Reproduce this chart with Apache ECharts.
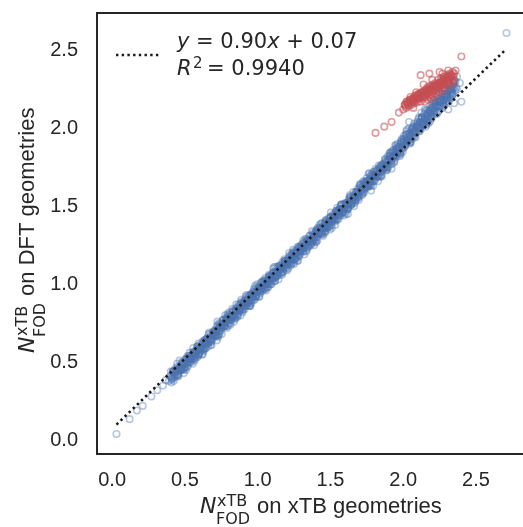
<!DOCTYPE html>
<html><head><meta charset="utf-8">
<script src="https://cdn.jsdelivr.net/npm/echarts@6/dist/echarts.min.js"></script>
<style>html,body{margin:0;padding:0;background:#fff;overflow:hidden}#c{width:523px;height:527px}</style>
</head><body><div id="c"></div>
<script>
const xTicks = [0.0, 0.5, 1.0, 1.5, 2.0, 2.5];
const yTicks = [0.0, 0.5, 1.0, 1.5, 2.0, 2.5];
const xTitleRest = ' on xTB geometries';
const yTitleRest = ' on DFT geometries';
const fitText = '{i|y} = 0.90{i|x} + 0.07';
const r2Value = '= 0.9940';
const fitX = [0.03, 2.70];
const fitY = [0.10, 2.50];

const blueBand1 = [
[0.40,0.41],[0.41,0.39],[0.42,0.44],[0.43,0.42],[0.44,0.44],[0.45,0.42],[0.46,0.46],[0.47,0.45],[0.48,0.49],[0.49,0.46],
[0.50,0.49],[0.51,0.52],[0.52,0.48],[0.53,0.53],[0.54,0.52],[0.55,0.56],[0.56,0.52],[0.57,0.55],[0.58,0.58],[0.59,0.54],
[0.60,0.59],[0.61,0.58],[0.62,0.63],[0.63,0.59],[0.64,0.62],[0.65,0.65],[0.66,0.60],[0.67,0.65],[0.68,0.64],[0.69,0.68],
[0.70,0.67],[0.71,0.69],[0.72,0.73],[0.73,0.67],[0.74,0.73],[0.75,0.72],[0.76,0.77],[0.77,0.73],[0.78,0.76],[0.79,0.79],
[0.80,0.75],[0.81,0.79],[0.82,0.77],[0.83,0.83],[0.84,0.80],[0.85,0.84],[0.86,0.79],[0.87,0.84],[0.88,0.87],[0.89,0.84],
[0.90,0.88],[0.91,0.84],[0.92,0.91],[0.93,0.88],[0.94,0.90],[0.95,0.93],[0.96,0.90],[0.97,0.94],[0.98,0.90],[0.99,0.98],
[1.00,0.95],[1.01,0.98],[1.02,0.95],[1.03,0.98],[1.04,1.02],[1.05,0.97],[1.06,1.02],[1.07,1.01],[1.08,1.05],[1.09,1.00],
[1.10,1.05],[1.11,1.08],[1.12,1.04],[1.13,1.08],[1.14,1.07],[1.15,1.11],[1.16,1.07],[1.17,1.14],[1.18,1.10],[1.19,1.13],
[1.20,1.15],[1.21,1.10],[1.22,1.17],[1.23,1.15],[1.24,1.20],[1.25,1.16],[1.26,1.19],[1.27,1.22],[1.28,1.18],[1.29,1.23],
[1.30,1.22],[1.31,1.26],[1.32,1.19],[1.33,1.25],[1.34,1.28],[1.35,1.25],[1.36,1.29],[1.37,1.26],[1.38,1.33],[1.39,1.30],
[1.40,1.34],[1.41,1.28],[1.42,1.33],[1.43,1.36],[1.44,1.33],[1.45,1.37],[1.46,1.34],[1.47,1.41],[1.48,1.38],[1.49,1.40],
[1.50,1.43],[1.51,1.36],[1.52,1.43],[1.53,1.41],[1.54,1.47],[1.55,1.44],[1.56,1.48],[1.57,1.44],[1.58,1.48],[1.59,1.51],
[1.60,1.46],[1.61,1.51],[1.62,1.50],[1.63,1.55],[1.64,1.51],[1.65,1.54],[1.66,1.57],[1.67,1.53],[1.68,1.58],[1.69,1.56],
[1.70,1.63],[1.71,1.60],[1.72,1.64],[1.73,1.59],[1.74,1.64],[1.75,1.68],[1.76,1.63],[1.77,1.67],[1.78,1.64],[1.79,1.70],
[1.80,1.68],[1.81,1.74],[1.82,1.69],[1.83,1.72],[1.84,1.75],[1.85,1.70],[1.86,1.75],[1.87,1.74],[1.88,1.79],[1.89,1.75],
[1.90,1.80],[1.91,1.84],[1.92,1.79],[1.93,1.84],[1.94,1.79],[1.95,1.89],[1.96,1.84],[1.97,1.88],[1.98,1.84],[1.99,1.93],
[2.00,1.91],[2.01,1.88],[2.02,1.96],[2.03,1.92],[2.04,2.00],[2.05,1.91],[2.06,1.97],[2.07,2.01],[2.08,1.95],[2.09,2.01],
[2.10,2.01],[2.11,2.07],[2.12,1.99],[2.13,2.06],[2.14,2.03],[2.15,2.12],[2.16,2.07],[2.17,2.03],[2.18,2.12],[2.19,2.08],
[2.20,2.16],[2.21,2.09],[2.22,2.16],[2.23,2.09],[2.24,2.21],[2.25,2.17],[2.26,2.14],[2.27,2.22],[2.28,2.18],[2.29,2.26],
[2.30,2.17],[2.31,2.24],[2.32,2.28],[2.33,2.22],[2.34,2.28],[2.35,2.26],[2.36,2.30],[2.37,2.25]
];
const blueBand2 = [
[0.425,0.41],[0.435,0.46],[0.445,0.41],[0.455,0.46],[0.465,0.46],[0.475,0.45],[0.485,0.50],[0.495,0.46],[0.505,0.51],[0.515,0.49],
[0.525,0.54],[0.535,0.50],[0.545,0.53],[0.555,0.55],[0.565,0.52],[0.575,0.55],[0.585,0.60],[0.595,0.55],[0.605,0.59],[0.615,0.59],
[0.625,0.58],[0.635,0.63],[0.645,0.59],[0.655,0.65],[0.665,0.63],[0.675,0.68],[0.685,0.64],[0.695,0.67],[0.705,0.70],[0.715,0.67],
[0.725,0.70],[0.735,0.75],[0.745,0.70],[0.755,0.74],[0.765,0.74],[0.775,0.73],[0.785,0.78],[0.795,0.73],[0.805,0.80],[0.815,0.78],
[0.825,0.84],[0.835,0.79],[0.845,0.82],[0.855,0.83],[0.865,0.80],[0.875,0.83],[0.885,0.88],[0.895,0.83],[0.905,0.88],[0.915,0.88],
[0.925,0.87],[0.935,0.92],[0.945,0.87],[0.955,0.93],[0.965,0.91],[0.975,0.97],[0.985,0.92],[0.995,0.95],[1.005,0.97],[1.015,0.94],
[1.025,0.97],[1.035,1.02],[1.045,0.97],[1.055,1.01],[1.065,1.01],[1.075,1.00],[1.085,1.05],[1.095,1.00],[1.105,1.07],[1.115,1.05],
[1.125,1.11],[1.135,1.06],[1.145,1.09],[1.155,1.10],[1.165,1.07],[1.175,1.10],[1.185,1.15],[1.195,1.10],[1.205,1.15],[1.215,1.15],
[1.225,1.14],[1.235,1.19],[1.245,1.14],[1.255,1.20],[1.265,1.18],[1.275,1.24],[1.285,1.19],[1.295,1.22],[1.305,1.24],[1.315,1.21],
[1.325,1.24],[1.335,1.29],[1.345,1.24],[1.355,1.28],[1.365,1.28],[1.375,1.27],[1.385,1.32],[1.395,1.27],[1.405,1.34],[1.415,1.32],
[1.425,1.38],[1.435,1.33],[1.445,1.36],[1.455,1.37],[1.465,1.34],[1.475,1.37],[1.485,1.42],[1.495,1.37],[1.505,1.42],[1.515,1.42],
[1.525,1.41],[1.535,1.46],[1.545,1.41],[1.555,1.47],[1.565,1.45],[1.575,1.51],[1.585,1.46],[1.595,1.49],[1.605,1.51],[1.615,1.48],
[1.625,1.51],[1.635,1.56],[1.645,1.51],[1.655,1.55],[1.665,1.55],[1.675,1.54],[1.685,1.59],[1.695,1.54],[1.705,1.62],[1.715,1.60],
[1.725,1.66],[1.735,1.61],[1.745,1.64],[1.755,1.66],[1.765,1.63],[1.775,1.66],[1.785,1.71],[1.795,1.66],[1.805,1.70],[1.815,1.70],
[1.825,1.69],[1.835,1.74],[1.845,1.69],[1.855,1.76],[1.865,1.74],[1.875,1.80],[1.885,1.75],[1.895,1.78],[1.905,1.82],[1.915,1.77],
[1.925,1.85],[1.935,1.82],[1.945,1.89],[1.955,1.82],[1.965,1.87],[1.975,1.82],[1.985,1.91],[1.995,1.87],[2.005,1.95],[2.015,1.89],
[2.025,1.99],[2.035,1.94],[2.045,1.91],[2.055,1.99],[2.065,1.95],[2.075,2.03],[2.085,1.94],[2.095,2.02],[2.105,2.06],[2.115,2.00],
[2.125,2.10],[2.135,2.04],[2.145,2.09],[2.155,2.01],[2.165,2.12],[2.175,2.06],[2.185,2.11],[2.195,2.06],[2.205,2.18],[2.215,2.11],
[2.225,2.17],[2.235,2.10],[2.245,2.23],[2.255,2.17],[2.265,2.22],[2.275,2.16],[2.285,2.25],[2.295,2.22],[2.305,2.19],[2.315,2.28],
[2.325,2.25],[2.335,2.21],[2.345,2.30]
];
const blueBand3 = [
[0.403,0.44],[0.413,0.40],[0.423,0.38],[0.433,0.45],[0.443,0.44],[0.453,0.42],[0.463,0.51],[0.473,0.45],[0.483,0.48],[0.493,0.43],
[0.503,0.52],[0.513,0.50],[0.523,0.53],[0.533,0.56],[0.543,0.52],[0.553,0.49],[0.563,0.57],[0.573,0.56],[0.583,0.53],[0.593,0.62],
[0.603,0.56],[0.613,0.60],[0.623,0.55],[0.633,0.64],[0.643,0.61],[0.653,0.64],[0.663,0.68],[0.673,0.64],[0.683,0.61],[0.693,0.68],
[0.703,0.69],[0.713,0.67],[0.723,0.76],[0.733,0.69],[0.743,0.73],[0.753,0.68],[0.763,0.77],[0.773,0.75],[0.783,0.77],[0.793,0.81],
[0.803,0.77],[0.813,0.74],[0.823,0.82],[0.833,0.80],[0.843,0.78],[0.853,0.87],[0.863,0.81],[0.873,0.85],[0.883,0.80],[0.893,0.89],
[0.903,0.86],[0.913,0.89],[0.923,0.93],[0.933,0.88],[0.943,0.86],[0.953,0.93],[0.963,0.92],[0.973,0.90],[0.983,0.99],[0.993,0.93],
[1.003,0.97],[1.013,0.92],[1.023,1.01],[1.033,0.98],[1.043,1.01],[1.053,1.04],[1.063,1.00],[1.073,0.98],[1.083,1.05],[1.093,1.04],
[1.103,1.02],[1.113,1.11],[1.123,1.05],[1.133,1.08],[1.143,1.03],[1.153,1.12],[1.163,1.10],[1.173,1.13],[1.183,1.16],[1.193,1.12],
[1.203,1.09],[1.213,1.17],[1.223,1.16],[1.233,1.13],[1.243,1.22],[1.253,1.16],[1.263,1.20],[1.273,1.15],[1.283,1.24],[1.293,1.21],
[1.303,1.24],[1.313,1.28],[1.323,1.24],[1.333,1.21],[1.343,1.28],[1.353,1.27],[1.363,1.25],[1.373,1.34],[1.383,1.28],[1.393,1.32],
[1.403,1.27],[1.413,1.36],[1.423,1.33],[1.433,1.36],[1.443,1.39],[1.453,1.35],[1.463,1.33],[1.473,1.40],[1.483,1.39],[1.493,1.37],
[1.503,1.46],[1.513,1.40],[1.523,1.44],[1.533,1.38],[1.543,1.47],[1.553,1.45],[1.563,1.48],[1.573,1.51],[1.583,1.47],[1.593,1.44],
[1.603,1.52],[1.613,1.51],[1.623,1.49],[1.633,1.57],[1.643,1.51],[1.653,1.55],[1.663,1.50],[1.673,1.59],[1.683,1.56],[1.693,1.59],
[1.703,1.64],[1.713,1.60],[1.723,1.58],[1.733,1.65],[1.743,1.64],[1.753,1.62],[1.763,1.71],[1.773,1.65],[1.783,1.68],[1.793,1.63],
[1.803,1.72],[1.813,1.70],[1.823,1.73],[1.833,1.76],[1.843,1.72],[1.853,1.69],[1.863,1.77],[1.873,1.76],[1.883,1.73],[1.893,1.82],
[1.903,1.78],[1.913,1.82],[1.923,1.77],[1.933,1.86],[1.943,1.83],[1.953,1.86],[1.963,1.90],[1.973,1.86],[1.983,1.83],[1.993,1.90],
[2.003,1.91],[2.013,1.89],[2.023,1.98],[2.033,1.92],[2.043,1.96],[2.053,1.91],[2.063,2.00],[2.073,1.97],[2.083,2.00],[2.093,2.03],
[2.103,2.01],[2.113,1.98],[2.123,2.06],[2.133,2.04],[2.143,2.02],[2.153,2.11],[2.163,2.05],[2.173,2.09],[2.183,2.04],[2.193,2.13],
[2.203,2.12],[2.213,2.15],[2.223,2.18],[2.233,2.14],[2.243,2.11],[2.253,2.19],[2.263,2.18],[2.273,2.16],[2.283,2.24],[2.293,2.18],
[2.303,2.22],[2.313,2.17],[2.323,2.26],[2.333,2.23],[2.343,2.26],[2.353,2.30],[2.363,2.26]
];
const blueBand4 = [
[0.407,0.37],[0.417,0.44],[0.427,0.43],[0.437,0.42],[0.447,0.49],[0.457,0.41],[0.467,0.47],[0.477,0.50],[0.487,0.45],[0.497,0.49],
[0.507,0.45],[0.517,0.47],[0.527,0.54],[0.537,0.53],[0.547,0.52],[0.557,0.59],[0.567,0.51],[0.577,0.57],[0.587,0.60],[0.597,0.55],
[0.607,0.59],[0.617,0.55],[0.627,0.57],[0.637,0.64],[0.647,0.63],[0.657,0.62],[0.667,0.69],[0.677,0.61],[0.687,0.67],[0.697,0.70],
[0.707,0.67],[0.717,0.70],[0.727,0.66],[0.737,0.68],[0.747,0.75],[0.757,0.74],[0.767,0.73],[0.777,0.80],[0.787,0.72],[0.797,0.78],
[0.807,0.82],[0.817,0.77],[0.827,0.80],[0.837,0.76],[0.847,0.78],[0.857,0.85],[0.867,0.84],[0.877,0.83],[0.887,0.90],[0.897,0.82],
[0.907,0.88],[0.917,0.92],[0.927,0.86],[0.937,0.90],[0.947,0.86],[0.957,0.88],[0.967,0.95],[0.977,0.94],[0.987,0.93],[0.997,1.00],
[1.007,0.92],[1.017,0.98],[1.027,1.01],[1.037,0.96],[1.047,1.00],[1.057,0.96],[1.067,0.98],[1.077,1.05],[1.087,1.04],[1.097,1.03],
[1.107,1.10],[1.117,1.02],[1.127,1.08],[1.137,1.11],[1.147,1.06],[1.157,1.10],[1.167,1.06],[1.177,1.08],[1.187,1.15],[1.197,1.14],
[1.207,1.13],[1.217,1.20],[1.227,1.12],[1.237,1.18],[1.247,1.21],[1.257,1.16],[1.267,1.20],[1.277,1.15],[1.287,1.18],[1.297,1.25],
[1.307,1.24],[1.317,1.23],[1.327,1.29],[1.337,1.22],[1.347,1.28],[1.357,1.31],[1.367,1.26],[1.377,1.29],[1.387,1.25],[1.397,1.28],
[1.407,1.35],[1.417,1.34],[1.427,1.32],[1.437,1.39],[1.447,1.32],[1.457,1.38],[1.467,1.41],[1.477,1.36],[1.487,1.39],[1.497,1.35],
[1.507,1.38],[1.517,1.45],[1.527,1.43],[1.537,1.42],[1.547,1.49],[1.557,1.42],[1.567,1.48],[1.577,1.51],[1.587,1.46],[1.597,1.49],
[1.607,1.45],[1.617,1.48],[1.627,1.54],[1.637,1.53],[1.647,1.52],[1.657,1.59],[1.667,1.52],[1.677,1.57],[1.687,1.61],[1.697,1.56],
[1.707,1.61],[1.717,1.57],[1.727,1.59],[1.737,1.66],[1.747,1.65],[1.757,1.64],[1.767,1.71],[1.777,1.63],[1.787,1.69],[1.797,1.72],
[1.807,1.67],[1.817,1.71],[1.827,1.66],[1.837,1.69],[1.847,1.76],[1.857,1.75],[1.867,1.74],[1.877,1.80],[1.887,1.73],[1.897,1.79],
[1.907,1.84],[1.917,1.79],[1.927,1.82],[1.937,1.78],[1.947,1.81],[1.957,1.88],[1.967,1.87],[1.977,1.85],[1.987,1.92],[1.997,1.85],
[2.007,1.93],[2.017,1.96],[2.027,1.91],[2.037,1.94],[2.047,1.90],[2.057,1.93],[2.067,2.00],[2.077,1.98],[2.087,1.97],[2.097,2.04],
[2.107,1.98],[2.117,2.04],[2.127,2.07],[2.137,2.02],[2.147,2.06],[2.157,2.02],[2.167,2.04],[2.177,2.11],[2.187,2.10],[2.197,2.09],
[2.207,2.17],[2.217,2.10],[2.227,2.15],[2.237,2.19],[2.247,2.14],[2.257,2.17],[2.267,2.13],[2.277,2.15],[2.287,2.22],[2.297,2.21],
[2.307,2.20],[2.317,2.27],[2.327,2.19],[2.337,2.25],[2.347,2.29],[2.357,2.24]
];
const blueBand5 = [
[0.401,0.41],[0.411,0.39],[0.421,0.44],[0.431,0.42],[0.441,0.45],[0.451,0.42],[0.461,0.45],[0.471,0.48],[0.481,0.46],[0.491,0.49],
[0.501,0.47],[0.511,0.52],[0.521,0.50],[0.531,0.53],[0.541,0.50],[0.551,0.54],[0.561,0.56],[0.571,0.54],[0.581,0.57],[0.591,0.55],
[0.601,0.61],[0.611,0.58],[0.621,0.61],[0.631,0.58],[0.641,0.62],[0.651,0.65],[0.661,0.62],[0.671,0.65],[0.681,0.63],[0.691,0.69],
[0.701,0.68],[0.711,0.71],[0.721,0.67],[0.731,0.71],[0.741,0.74],[0.751,0.72],[0.761,0.75],[0.771,0.73],[0.781,0.78],[0.791,0.76],
[0.801,0.79],[0.811,0.75],[0.821,0.79],[0.831,0.82],[0.841,0.80],[0.851,0.83],[0.861,0.81],[0.871,0.86],[0.881,0.84],[0.891,0.87],
[0.901,0.84],[0.911,0.87],[0.921,0.90],[0.931,0.88],[0.941,0.91],[0.951,0.89],[0.961,0.94],[0.971,0.92],[0.981,0.95],[0.991,0.92],
[1.001,0.96],[1.011,0.98],[1.021,0.96],[1.031,0.99],[1.041,0.97],[1.051,1.03],[1.061,1.00],[1.071,1.03],[1.081,1.00],[1.091,1.04],
[1.101,1.07],[1.111,1.04],[1.121,1.07],[1.131,1.05],[1.141,1.11],[1.151,1.09],[1.161,1.11],[1.171,1.08],[1.181,1.12],[1.191,1.15],
[1.201,1.12],[1.211,1.15],[1.221,1.13],[1.231,1.19],[1.241,1.17],[1.251,1.20],[1.261,1.16],[1.271,1.20],[1.281,1.23],[1.291,1.20],
[1.301,1.24],[1.311,1.21],[1.321,1.27],[1.331,1.25],[1.341,1.28],[1.351,1.24],[1.361,1.28],[1.371,1.31],[1.381,1.28],[1.391,1.32],
[1.401,1.30],[1.411,1.35],[1.421,1.33],[1.431,1.36],[1.441,1.32],[1.451,1.36],[1.461,1.39],[1.471,1.36],[1.481,1.40],[1.491,1.38],
[1.501,1.43],[1.511,1.41],[1.521,1.44],[1.531,1.40],[1.541,1.44],[1.551,1.47],[1.561,1.44],[1.571,1.48],[1.581,1.46],[1.591,1.51],
[1.601,1.49],[1.611,1.52],[1.621,1.48],[1.631,1.52],[1.641,1.55],[1.651,1.53],[1.661,1.56],[1.671,1.54],[1.681,1.59],[1.691,1.57],
[1.701,1.62],[1.711,1.58],[1.721,1.62],[1.731,1.65],[1.741,1.62],[1.751,1.66],[1.761,1.63],[1.771,1.69],[1.781,1.67],[1.791,1.70],
[1.801,1.66],[1.811,1.70],[1.821,1.73],[1.831,1.70],[1.841,1.74],[1.851,1.72],[1.861,1.77],[1.871,1.75],[1.881,1.78],[1.891,1.74],
[1.901,1.80],[1.911,1.83],[1.921,1.80],[1.931,1.84],[1.941,1.82],[1.951,1.87],[1.961,1.85],[1.971,1.88],[1.981,1.84],[1.991,1.88],
[2.001,1.93],[2.011,1.90],[2.021,1.94],[2.031,1.92],[2.041,1.97],[2.051,1.95],[2.061,1.98],[2.071,1.94],[2.081,1.98],[2.091,2.01],
[2.101,2.00],[2.111,2.03],[2.121,2.01],[2.131,2.07],[2.141,2.05],[2.151,2.08],[2.161,2.04],[2.171,2.08],[2.181,2.11],[2.191,2.08],
[2.201,2.13],[2.211,2.11],[2.221,2.16],[2.231,2.14],[2.241,2.17],[2.251,2.14],[2.261,2.17],[2.271,2.20],[2.281,2.18],[2.291,2.21],
[2.301,2.19],[2.311,2.24],[2.321,2.22],[2.331,2.25],[2.341,2.22]
];
const blueBand6 = [
[0.408,0.40],[0.418,0.44],[0.428,0.40],[0.438,0.44],[0.448,0.47],[0.458,0.44],[0.468,0.46],[0.478,0.46],[0.488,0.50],[0.498,0.46],
[0.508,0.50],[0.518,0.54],[0.528,0.50],[0.538,0.52],[0.548,0.52],[0.558,0.56],[0.568,0.53],[0.578,0.57],[0.588,0.60],[0.598,0.56],
[0.608,0.59],[0.618,0.59],[0.628,0.63],[0.638,0.59],[0.648,0.63],[0.658,0.66],[0.668,0.63],[0.678,0.65],[0.688,0.65],[0.698,0.69],
[0.708,0.67],[0.718,0.71],[0.728,0.74],[0.738,0.70],[0.748,0.73],[0.758,0.73],[0.768,0.77],[0.778,0.73],[0.788,0.77],[0.798,0.80],
[0.808,0.77],[0.818,0.79],[0.828,0.79],[0.838,0.83],[0.848,0.79],[0.858,0.83],[0.868,0.87],[0.878,0.83],[0.888,0.85],[0.898,0.85],
[0.908,0.89],[0.918,0.86],[0.928,0.90],[0.938,0.93],[0.948,0.89],[0.958,0.92],[0.968,0.92],[0.978,0.96],[0.988,0.92],[0.998,0.96],
[1.008,0.99],[1.018,0.96],[1.028,0.98],[1.038,0.98],[1.048,1.02],[1.058,0.98],[1.068,1.02],[1.078,1.06],[1.088,1.02],[1.098,1.04],
[1.108,1.04],[1.118,1.08],[1.128,1.05],[1.138,1.08],[1.148,1.12],[1.158,1.08],[1.168,1.11],[1.178,1.11],[1.188,1.14],[1.198,1.11],
[1.208,1.15],[1.218,1.18],[1.228,1.15],[1.238,1.17],[1.248,1.17],[1.258,1.21],[1.268,1.17],[1.278,1.21],[1.288,1.24],[1.298,1.21],
[1.308,1.23],[1.318,1.23],[1.328,1.27],[1.338,1.23],[1.348,1.27],[1.358,1.31],[1.368,1.27],[1.378,1.30],[1.388,1.29],[1.398,1.33],
[1.408,1.30],[1.418,1.34],[1.428,1.37],[1.438,1.33],[1.448,1.36],[1.458,1.36],[1.468,1.40],[1.478,1.36],[1.488,1.40],[1.498,1.43],
[1.508,1.40],[1.518,1.42],[1.528,1.42],[1.538,1.46],[1.548,1.42],[1.558,1.46],[1.568,1.50],[1.578,1.46],[1.588,1.48],[1.598,1.48],
[1.608,1.52],[1.618,1.49],[1.628,1.53],[1.638,1.56],[1.648,1.52],[1.658,1.55],[1.668,1.55],[1.678,1.59],[1.688,1.55],[1.698,1.59],
[1.708,1.64],[1.718,1.60],[1.728,1.63],[1.738,1.62],[1.748,1.66],[1.758,1.63],[1.768,1.67],[1.778,1.70],[1.788,1.66],[1.798,1.69],
[1.808,1.69],[1.818,1.73],[1.828,1.69],[1.838,1.73],[1.848,1.76],[1.858,1.73],[1.868,1.75],[1.878,1.75],[1.888,1.79],[1.898,1.75],
[1.908,1.81],[1.918,1.85],[1.928,1.81],[1.938,1.83],[1.948,1.83],[1.958,1.87],[1.968,1.84],[1.978,1.88],[1.988,1.91],[1.998,1.87],
[2.008,1.92],[2.018,1.92],[2.028,1.96],[2.038,1.92],[2.048,1.96],[2.058,1.99],[2.068,1.96],[2.078,1.98],[2.088,1.98],[2.098,2.02],
[2.108,2.00],[2.118,2.04],[2.128,2.07],[2.138,2.03],[2.148,2.06],[2.158,2.06],[2.168,2.10],[2.178,2.06],[2.188,2.10],[2.198,2.13],
[2.208,2.11],[2.218,2.14],[2.228,2.14],[2.238,2.17],[2.248,2.14],[2.258,2.18],[2.268,2.21],[2.278,2.18],[2.288,2.20],[2.298,2.20],
[2.308,2.24],[2.318,2.20],[2.328,2.24],[2.338,2.27]
];
const blueSparse = [
[0.03,0.04],[0.12,0.135],[0.17,0.19],[0.21,0.22],[0.27,0.28],[0.31,0.32],[0.35,0.35],[0.37,0.385],[0.39,0.38],
[0.72,0.64],[0.95,0.86],[1.12,1.02],[1.25,1.13],[1.45,1.31],[1.62,1.45],[1.78,1.60],[1.92,1.74],
[2.04,2.04],[2.28,2.14],[2.31,2.12],[2.34,2.21],[2.35,2.16],[2.40,2.17],[2.37,2.33],[2.39,2.29],[2.71,2.61]
];
const redPoints = [
[1.81,1.97],[1.87,2.01],[1.92,2.04],[1.97,2.10],[2.00,2.12],[2.01,2.15],[2.02,2.13],[2.03,2.16],[2.04,2.14],[2.05,2.17],
[2.06,2.15],[2.07,2.18],[2.07,2.13],[2.08,2.16],[2.09,2.19],[2.10,2.17],[2.10,2.21],[2.11,2.19],[2.12,2.22],[2.12,2.17],
[2.13,2.20],[2.14,2.23],[2.14,2.19],[2.15,2.21],[2.16,2.25],[2.16,2.22],[2.17,2.24],[2.18,2.21],[2.18,2.27],[2.19,2.25],
[2.20,2.23],[2.20,2.28],[2.21,2.26],[2.22,2.29],[2.22,2.24],[2.23,2.27],[2.24,2.31],[2.24,2.26],[2.25,2.29],[2.26,2.32],
[2.26,2.27],[2.27,2.30],[2.28,2.33],[2.28,2.28],[2.29,2.31],[2.30,2.34],[2.30,2.30],[2.31,2.32],[2.32,2.35],[2.32,2.29],
[2.33,2.33],[2.34,2.36],[2.35,2.31],[2.35,2.35],[2.12,2.34],[2.18,2.35],[2.25,2.36],[2.36,2.37],[2.40,2.46],[2.05,2.20],
[2.09,2.23],[2.17,2.18],[2.21,2.20],[2.25,2.23],[2.29,2.26],[2.15,2.17],[2.19,2.19],[2.23,2.22],[2.27,2.24],
[2.015,2.14],[2.025,2.17],[2.035,2.15],[2.045,2.18],[2.055,2.16],[2.065,2.19],[2.075,2.17],[2.085,2.20],[2.095,2.18],[2.105,2.22],
[2.115,2.20],[2.125,2.23],[2.135,2.21],[2.145,2.24],[2.155,2.20],[2.165,2.26],[2.175,2.23],[2.185,2.25],[2.195,2.22],[2.205,2.27],
[2.215,2.24],[2.225,2.28],[2.235,2.25],[2.245,2.29],[2.255,2.27],[2.265,2.30],[2.275,2.28],[2.285,2.32],[2.295,2.29],[2.305,2.33],
[2.315,2.30],[2.325,2.34],[2.335,2.31],[2.345,2.33],[2.14,2.28],[2.20,2.31],[2.27,2.35],[2.31,2.37],[2.08,2.21],[2.34,2.29],
[2.012,2.15],[2.022,2.17],[2.032,2.16],[2.042,2.18],[2.052,2.17],[2.062,2.19],[2.072,2.18],[2.082,2.19],[2.092,2.21],[2.102,2.19],
[2.112,2.22],[2.122,2.20],[2.132,2.23],[2.142,2.22],[2.152,2.24],[2.162,2.23],[2.172,2.25],[2.182,2.24],[2.192,2.26],[2.202,2.25],
[2.212,2.27],[2.222,2.26],[2.232,2.28],[2.242,2.27],[2.252,2.29],[2.262,2.28],[2.272,2.31],[2.282,2.29],[2.292,2.32],[2.302,2.31],
[2.312,2.33],[2.322,2.32],[2.332,2.34]
];

const TXT = '#262626';
function isTick(list, v) { return list.some(t => Math.abs(t - v) < 1e-6); }

function mathTitle(rest) {
  return [
    {type:'text', x:0, y:-8, style:{text:'N', fontFamily:'DejaVu Sans', fontStyle:'italic', fontSize:22, fill:TXT, verticalAlign:'middle'}},
    {type:'text', x:17, y:-13, style:{text:'xTB', fontFamily:'DejaVu Sans', fontSize:16, fill:TXT, verticalAlign:'middle'}},
    {type:'text', x:16, y:5, style:{text:'FOD', fontFamily:'DejaVu Sans', fontSize:16, fill:TXT, verticalAlign:'middle'}},
    {type:'text', x:51, y:-8, style:{text:rest, fontFamily:'Liberation Sans', fontSize:22, fill:TXT, verticalAlign:'middle'}}
  ];
}

const chart = echarts.init(document.getElementById('c'), null, {renderer:'canvas'});
const circle = (c) => ({color:'rgba(0,0,0,0)', borderColor:c, borderWidth:1.6});
chart.setOption({
  animation:false,
  backgroundColor:'#ffffff',
  grid:{left:97, top:13, width:429, height:441, outerBoundsMode:'none', containLabel:false,
    show:true, borderColor:'#262626', borderWidth:2, backgroundColor:'rgba(0,0,0,0)'},
  xAxis:{type:'value', min:-0.104, max:2.844, splitNumber:6,
    axisLine:{show:false}, axisTick:{show:false}, splitLine:{show:false},
    axisLabel:{margin:16, fontSize:20, fontFamily:'Liberation Sans', color:TXT,
      showMinLabel:true, showMaxLabel:true, hideOverlap:false,
      formatter:v => isTick(xTicks, v) ? v.toFixed(1) : ''}},
  yAxis:{type:'value', min:-0.0885, max:2.7385, splitNumber:6,
    axisLine:{show:false}, axisTick:{show:false}, splitLine:{show:false},
    axisLabel:{margin:19, fontSize:20, fontFamily:'Liberation Sans', color:TXT,
      hideOverlap:false,
      formatter:v => isTick(yTicks, v) ? v.toFixed(1) : ''}},
  series:[
    {type:'scatter', data:blueSparse.concat(blueBand1, blueBand2, blueBand3, blueBand4, blueBand5, blueBand6),
     symbol:'circle', symbolSize:6.5, silent:true, large:false, largeThreshold:100000,
     itemStyle:circle('rgba(76,114,176,0.5)'), z:2},
    {type:'scatter', data:redPoints, symbol:'circle', symbolSize:6.5, silent:true,
     itemStyle:circle('rgba(196,78,82,0.7)'), z:3},
    {type:'line', data:fitX.map((x,i)=>[x, fitY[i]]), symbol:'none', silent:true, z:4,
     lineStyle:{color:'#1a1a1a', width:2.6, type:[2.4,3.3]}}
  ],
  graphic:[
    {type:'group', x:200, y:515, children:mathTitle(xTitleRest)},
    {type:'group', x:36, y:353, rotation:Math.PI/2, children:mathTitle(yTitleRest)},
    {type:'line', shape:{x1:116, y1:55, x2:160, y2:55}, style:{stroke:'#1a1a1a', lineWidth:2.6, lineDash:[2.4,3.3]}},
    {type:'text', x:177, y:43, style:{text:fitText, fontFamily:'DejaVu Sans', fontSize:21, fill:TXT, verticalAlign:'middle',
      rich:{i:{fontFamily:'DejaVu Sans', fontStyle:'italic', fontSize:21, fill:TXT}}}},
    {type:'text', x:177, y:70, style:{text:'R', fontFamily:'DejaVu Sans', fontStyle:'italic', fontSize:21, fill:TXT, verticalAlign:'middle'}},
    {type:'text', x:193, y:64, style:{text:'2', fontFamily:'DejaVu Sans', fontSize:15, fill:TXT, verticalAlign:'middle'}},
    {type:'text', x:207, y:70, style:{text:r2Value, fontFamily:'DejaVu Sans', fontSize:21, fill:TXT, verticalAlign:'middle'}}
  ]
});
</script></body></html>
